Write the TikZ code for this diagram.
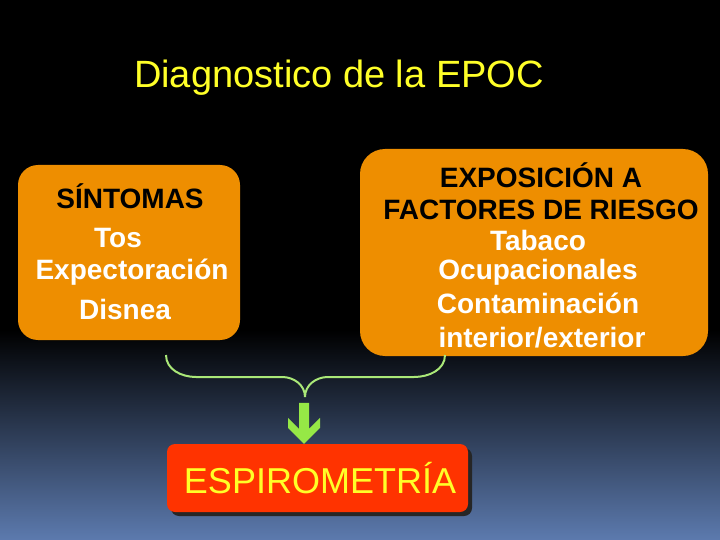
\documentclass[tikz,border=0pt]{standalone}
\usepackage{fontspec}
\setmainfont{Liberation Sans}
\usetikzlibrary{shadows}
\definecolor{boxorange}{RGB}{238,142,0}
\definecolor{spirored}{RGB}{255,51,0}
\definecolor{titleyellow}{RGB}{255,255,40}
\definecolor{bracegreen}{RGB}{170,232,120}
\definecolor{arrowgreen}{RGB}{150,232,70}
\definecolor{slateblue}{RGB}{92,122,174}
\begin{document}
\begin{tikzpicture}[x=1pt,y=-1pt,
  obox/.style={fill=boxorange,rounded corners=#1,inner sep=0pt},
  head/.style={inner sep=0pt,font=\fontsize{28}{32}\selectfont\bfseries,text=black},
  item/.style={inner sep=0pt,font=\fontsize{28}{32}\selectfont\bfseries,text=white},
  brace/.style={draw=bracegreen,line width=2pt}]
\useasboundingbox (0,0) rectangle (720,540);
\fill[black] (0,0) rectangle (720,540);
\shade[top color=black,bottom color=slateblue] (0,330) rectangle (720,540);
\node[text=titleyellow,inner sep=0pt,font=\fontsize{38}{40}\selectfont] (title) at (339,78) {Diagnostico de la EPOC};
\node[obox=20,minimum width=222,minimum height=175] (sintomas) at (129,252.5) {};
\node[head] (sint) at (130,196) {SÍNTOMAS};
\node[item] (tos) at (118,238) {Tos};
\node[item] (expec) at (132,272) {Expectoración};
\node[item] (disnea) at (125,309) {Disnea};
\node[obox=25,minimum width=348,minimum height=207] (riesgo) at (534,252.5) {};
\node[head,align=center] (expo) at (541,191.5) {EXPOSICIÓN A\\FACTORES DE RIESGO};
\node[item] (tabaco) at (538,240) {Tabaco};
\node[item] (ocup) at (538,272) {Ocupacionales};
\node[item] (conta) at (538,303) {Contaminación};
\node[item] (inter) at (542,338) {interior/exterior};
\node[fill=spirored,rounded corners=8,minimum width=301,minimum height=68,inner sep=0pt,
  drop shadow={shadow xshift=4pt,shadow yshift=-4pt,fill=black!85,opacity=1},
  text=titleyellow,font=\fontsize{36}{38}\selectfont] (spiro) at (317.5,478) {\hspace*{5pt}ESPIROMETRÍA};
\coordinate (bl) at (166,355);
\coordinate (br) at (445,355);
\coordinate (tip) at (305,397);
\coordinate (atop) at (304,403);
\draw[brace] (bl) to[out=-90,in=180] (196,377) -- (282,377) to[out=0,in=90] (tip);
\draw[brace] (br) to[out=-90,in=0] (414,377) -- (328,377) to[out=180,in=90] (tip);
% chevron arrow down to the box
\fill[arrowgreen] (atop |- spiro.north) -- ++(-16,-16) -- ++(0,-10) -- ++(11,11)
  -- ++(0,-26) -- ++(10,0) -- ++(0,26) -- ++(11,-11) -- ++(0,10) -- cycle;
\end{tikzpicture}
\end{document}
